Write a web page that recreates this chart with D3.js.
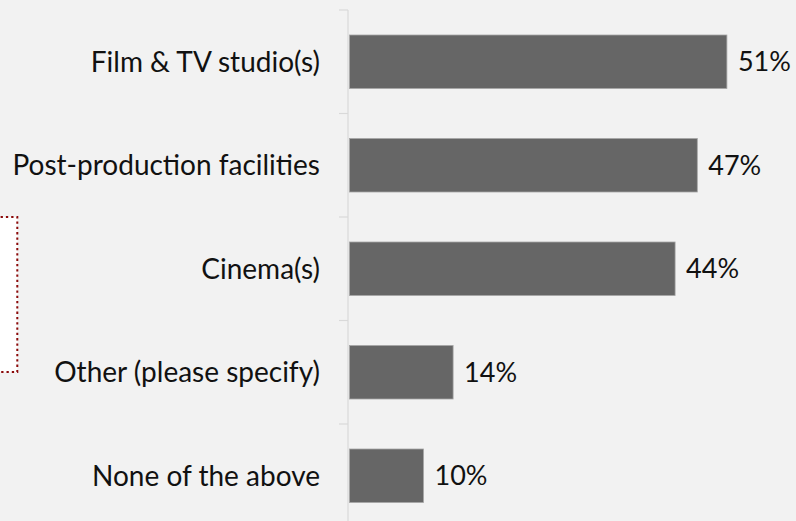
<!DOCTYPE html>
<html>
<head>
<meta charset="utf-8">
<script src="https://cdn.jsdelivr.net/npm/d3@7/dist/d3.min.js"></script>
<style>
  html, body { margin: 0; padding: 0; background: #f2f2f2; }
  svg { display: block; }
  text { font-family: Lato, "Noto Sans", sans-serif; fill: #111; }
</style>
</head>
<body>
<svg id="chart" width="796" height="521"></svg>
<script>
// Survey answers: facilities used
const categories = [
  "Film & TV studio(s)",
  "Post-production facilities",
  "Cinema(s)",
  "Other (please specify)",
  "None of the above"
];
const values = [51, 47, 44, 14, 10];
const valueLabels = ["51%", "47%", "44%", "14%", "10%"];

const W = 796, H = 521;
const svg = d3.select("#chart");

svg.append("rect").attr("width", W).attr("height", H).attr("fill", "#f2f2f2");

// Dotted callout panel at the left edge
svg.append("rect")
  .attr("x", -10).attr("y", 217)
  .attr("width", 27.3).attr("height", 155)
  .attr("fill", "#ffffff")
  .attr("stroke", "#8b0a0a")
  .attr("stroke-width", 2)
  .attr("stroke-dasharray", "2.3,3");

const x = d3.scaleLinear().domain([0, 60]).range([349.5, 349.5 + 60 * 7.4]);
const y = d3.scaleBand().domain(categories)
  .range([10, 527.5]).paddingInner(0.483).paddingOuter(0.2415);

const gap = (y.step() - y.bandwidth()) / 2;
const boundaries = categories.map(c => y(c) - gap).concat([y(categories[categories.length - 1]) + y.bandwidth() + gap]);

// Category axis: vertical line with ticks between bands
const axisX = 348;
svg.append("line")
  .attr("x1", axisX).attr("x2", axisX)
  .attr("y1", boundaries[0]).attr("y2", boundaries[boundaries.length - 1])
  .attr("stroke", "#d9d9d9").attr("stroke-width", 1.2);
svg.selectAll("line.tick").data(boundaries).join("line")
  .attr("class", "tick")
  .attr("x1", axisX - 9).attr("x2", axisX)
  .attr("y1", d => d).attr("y2", d => d)
  .attr("stroke", "#d9d9d9").attr("stroke-width", 1.2);

// Bars
svg.selectAll("rect.bar").data(values).join("rect")
  .attr("class", "bar")
  .attr("x", x(0))
  .attr("y", (d, i) => y(categories[i]))
  .attr("width", d => x(d) - x(0))
  .attr("height", y.bandwidth())
  .attr("fill", "#666666")
  .attr("stroke", "#a6a6a6")
  .attr("stroke-width", 0.8);

// Category labels
svg.selectAll("text.cat").data(categories).join("text")
  .attr("class", "cat")
  .attr("x", 320)
  .attr("y", d => y(d) + y.bandwidth() / 2)
  .attr("dy", "0.35em")
  .attr("text-anchor", "end")
  .style("font-size", "28px")
  .text(d => d);

// Value labels
svg.selectAll("text.val").data(values).join("text")
  .attr("class", "val")
  .attr("x", d => x(d) + 11)
  .attr("y", (d, i) => y(categories[i]) + y.bandwidth() / 2)
  .attr("dy", "0.35em")
  .style("font-size", "27px")
  .text((d, i) => valueLabels[i]);
</script>
</body>
</html>
